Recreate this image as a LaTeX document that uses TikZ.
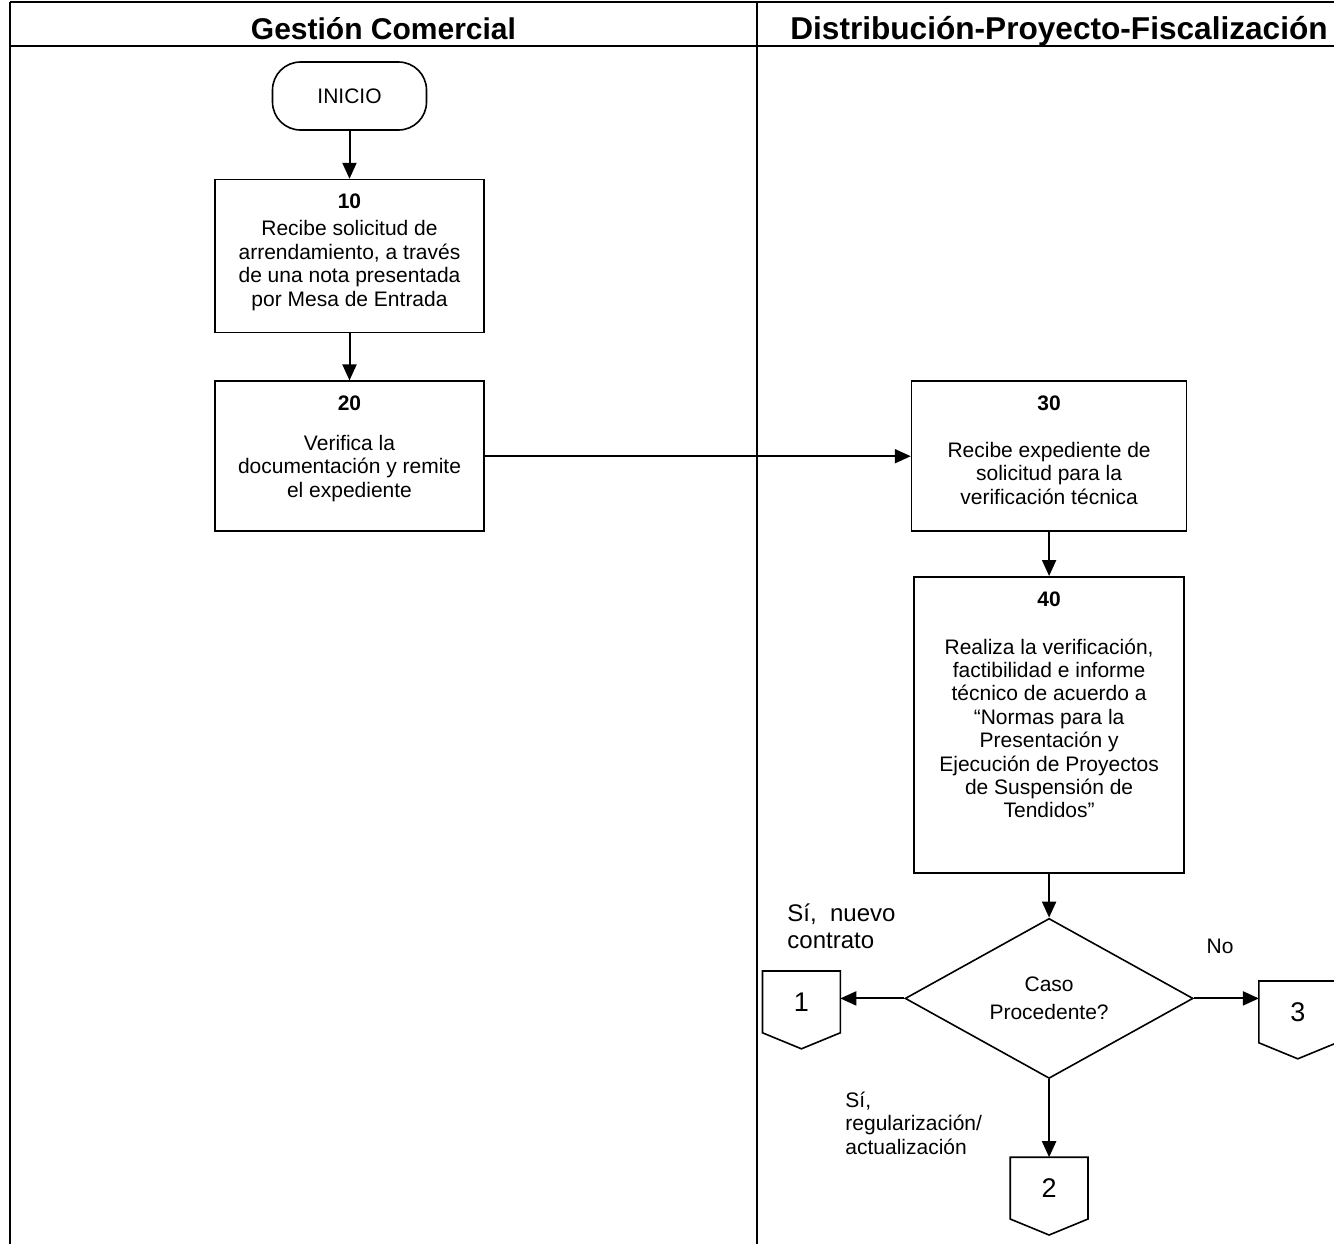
\documentclass[tikz,border=0pt]{standalone}
\usepackage{fontspec}
\setmainfont{Liberation Sans}
\usetikzlibrary{shapes.geometric,arrows.meta,positioning,calc}

\newcommand{\bodyfont}{\fontsize{10.5pt}{11.7pt}\selectfont}

\tikzset{
  frame/.style={line width=1.2pt},
  lanehead/.style={font=\fontsize{15pt}{17pt}\selectfont\bfseries, inner sep=0pt, anchor=base},
  stepbox/.style={draw, rectangle, line width=0.8pt, inner sep=0pt},
  steptext/.style={label={[anchor=north, align=center, inner sep=0pt, yshift=-7.5pt, font=\bodyfont]north:#1}},
  terminal/.style={draw, rectangle, rounded corners=14pt, line width=0.8pt, minimum width=77pt, minimum height=34pt, font=\bodyfont},
  decision/.style={draw, diamond, aspect=1.8, line width=0.8pt, minimum width=144pt, minimum height=80pt, inner sep=0pt, align=center, font=\bodyfont},
  offpage/.style={rectangle, minimum width=38.5pt, minimum height=30.5pt, inner sep=0pt, font=\fontsize{13.5pt}{15pt}\selectfont},
  note/.style={align=left, inner sep=0pt, font=\bodyfont},
  flow/.style={-{Triangle[length=8pt,width=7pt]}, line width=1pt}
}

\begin{document}
\begin{tikzpicture}[x=0.5pt, y=-0.5pt]
    \useasboundingbox (0,0) rectangle (1334,1244);

    % swimlanes
    \draw[frame] (10,2) -- (1334,2);
    \draw[frame] (10,46) -- (1334,46);
    \draw[frame] (10,2) -- (10,1244);
    \draw[frame] (757,2) -- (757,1244);
    \node[lanehead] (gc) at (383.5,39) {Gestión Comercial};
    \node[lanehead, font=\fontsize{15.8pt}{17pt}\selectfont\bfseries] (dpf) at (1059,39) {Distribución-Proyecto-Fiscalización};

    % Gestion Comercial
    \node[terminal] (inicio) at (349.5,96) {INICIO};
    \node[stepbox, minimum width=134.5pt, minimum height=76.5pt, below=24pt of inicio,
          steptext={\textbf{10}\\[1.8pt]Recibe solicitud de\\arrendamiento, a través\\de una nota presentada\\por Mesa de Entrada}] (b10) {};
    \node[stepbox, minimum width=134.5pt, minimum height=75pt, below=23.5pt of b10,
          steptext={\textbf{20}\\[8.3pt]Verifica la\\documentación y remite\\el expediente}] (b20) {};

    % Distribucion-Proyecto-Fiscalizacion
    \node[stepbox, minimum width=137.5pt, minimum height=75pt, right=213pt of b20,
          steptext={\textbf{30}\\[11.7pt]Recibe expediente de\\solicitud para la\\verificación técnica}] (b30) {};
    \node[stepbox, minimum width=135pt, minimum height=148pt, below=22pt of b30,
          steptext={\textbf{40}\\[12.3pt]Realiza la verificación,\\factibilidad e informe\\técnico de acuerdo a\\“Normas para la\\Presentación y\\Ejecución de Proyectos\\de Suspensión de\\Tendidos”}] (b40) {};
    \node[decision, below=22pt of b40] (dec) {Caso\\[2pt]Procedente?};

    \node[offpage, left=32pt of dec, yshift=-1.75pt] (c1) {1};
    \node[offpage, below=39pt of dec] (c2) {2};
    \node[offpage, right=32.5pt of dec, yshift=-6.75pt] (c3) {3};
    \foreach \c in {c1,c2,c3}
        \draw[line width=0.8pt] (\c.north west) -- (\c.south west) -- ([yshift=-8pt]\c.south) -- (\c.south east) -- (\c.north east) -- cycle;

    \node[note, anchor=west, font=\fontsize{12pt}{13.7pt}\selectfont] (sinuevo) at (787,926) {Sí,~ nuevo\\contrato};
    \node[note] (no) at (1220,946) {No};
    \node[note, anchor=west] (sireg) at (845,1123) {Sí,\\regularización/\\actualización};

    \draw[flow] (inicio) -- (b10);
    \draw[flow] (b10) -- (b20);
    \draw[flow] (b20) -- (b30);
    \draw[flow] (b30) -- (b40);
    \draw[flow] (b40) -- (dec);
    \draw[flow] (dec.west) -- (dec.west -| c1.east);
    \draw[flow] (dec.east) -- (dec.east -| c3.west);
    \draw[flow] (dec) -- (c2);
\end{tikzpicture}
\end{document}
